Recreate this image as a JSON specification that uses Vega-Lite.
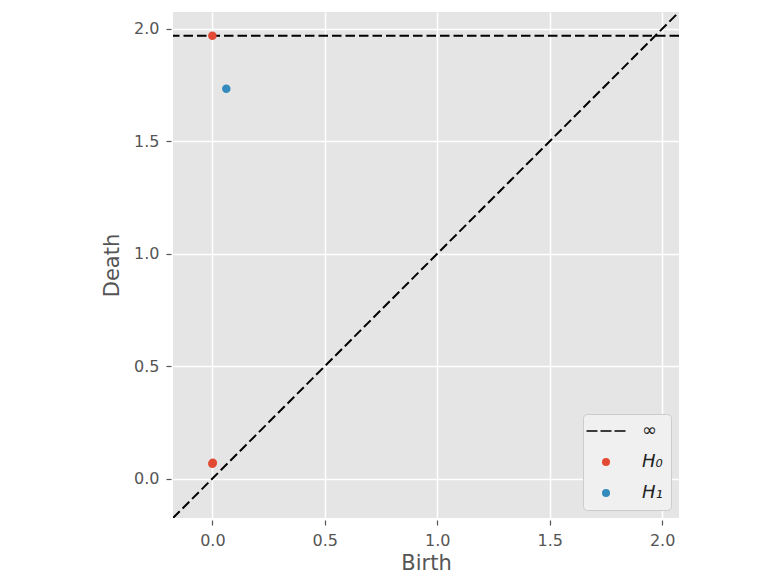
{
  "$schema": "https://vega.github.io/schema/vega-lite/v6.json",
  "width": 506,
  "height": 506,
  "autosize": {"type": "none"},
  "padding": {"left": 173, "top": 12, "right": 92, "bottom": 60},
  "background": "white",
  "config": {
    "view": {"fill": "#E5E5E5", "stroke": null},
    "font": "DejaVu Sans"
  },
  "datasets": {
    "points": [
      {"birth": 0.0, "death": 0.066, "dim": "H₀"},
      {"birth": 0.002, "death": 0.071, "dim": "H₀"},
      {"birth": 0.0, "death": 1.969, "dim": "H₀"},
      {"birth": 0.062, "death": 1.734, "dim": "H₁"}
    ],
    "diag": [{"x": -0.175, "y": -0.175, "x2": 2.075, "y2": 2.075}],
    "inf": [{"y": 1.969}]
  },
  "layer": [
    {
      "data": {"name": "diag"},
      "mark": {"type": "rule", "color": "black", "strokeWidth": 2, "strokeDash": [9.5, 4], "clip": true},
      "encoding": {
        "x": {
          "field": "x", "type": "quantitative",
          "scale": {"domain": [-0.175, 2.075], "nice": false, "zero": false},
          "axis": {
            "title": "Birth", "values": [0, 0.5, 1, 1.5, 2], "format": ".1f",
            "grid": true, "gridColor": "white", "gridWidth": 1.5, "domain": false,
            "tickColor": "#555555", "tickSize": 5, "tickWidth": 1.2, "offset": 2,
            "labelFontSize": 16, "labelColor": "#555555", "labelPadding": 7, "labelFont": "DejaVu Sans",
            "titleFontSize": 21, "titleColor": "#555555", "titleFontWeight": "normal", "titleFont": "DejaVu Sans", "titlePadding": 4
          }
        },
        "y": {
          "field": "y", "type": "quantitative",
          "scale": {"domain": [-0.175, 2.075], "nice": false, "zero": false},
          "axis": {
            "title": "Death", "values": [0, 0.5, 1, 1.5, 2], "format": ".1f",
            "grid": true, "gridColor": "white", "gridWidth": 1.5, "domain": false,
            "tickColor": "#555555", "tickSize": 5, "tickWidth": 1.2, "offset": 2,
            "labelFontSize": 16, "labelColor": "#555555", "labelPadding": 7, "labelFont": "DejaVu Sans",
            "titleFontSize": 21, "titleColor": "#555555", "titleFontWeight": "normal", "titleFont": "DejaVu Sans", "titlePadding": 11
          }
        },
        "x2": {"field": "x2"},
        "y2": {"field": "y2"}
      }
    },
    {
      "data": {"name": "inf"},
      "mark": {"type": "rule", "color": "black", "strokeWidth": 2, "strokeDash": [9.5, 4]},
      "encoding": {
        "y": {"field": "y", "type": "quantitative"}
      }
    },
    {
      "data": {"name": "points"},
      "mark": {"type": "point", "filled": true, "opacity": 1, "size": 72},
      "encoding": {
        "x": {"field": "birth", "type": "quantitative"},
        "y": {"field": "death", "type": "quantitative"},
        "color": {
          "field": "dim",
          "type": "nominal",
          "scale": {"domain": ["∞", "H₀", "H₁"], "range": ["black", "#E24A33", "#348ABD"]},
          "legend": {
            "title": null,
            "orient": "bottom-right",
            "offset": 8,
            "fillColor": "#F0F0F0",
            "strokeColor": "#CCCCCC",
            "cornerRadius": 4,
            "padding": 8,
            "labelFontSize": 18,
            "labelFont": "DejaVu Sans",
            "labelFontStyle": "italic",
            "labelColor": "#222222",
            "symbolSize": 64,
            "symbolStrokeWidth": 0,
            "symbolOpacity": 1,
            "rowPadding": 13,
            "symbolOffset": 6,
            "labelOffset": 27
          }
        },
        "shape": {
          "field": "dim",
          "type": "nominal",
          "scale": {"domain": ["∞", "H₀", "H₁"], "range": ["M-4.875,-0.17H-2.125V0.17H-4.875Z M-1.375,-0.17H1.375V0.17H-1.375Z M2.125,-0.17H4.875V0.17H2.125Z", "circle", "circle"]},
          "legend": {
            "title": null,
            "orient": "bottom-right",
            "offset": 8,
            "fillColor": "#F0F0F0",
            "strokeColor": "#CCCCCC",
            "cornerRadius": 4,
            "padding": 8,
            "labelFontSize": 18,
            "labelFont": "DejaVu Sans",
            "labelFontStyle": "italic",
            "labelColor": "#222222",
            "symbolSize": 64,
            "symbolStrokeWidth": 0,
            "symbolOpacity": 1,
            "rowPadding": 13,
            "symbolOffset": 6,
            "labelOffset": 27
          }
        }
      }
    }
  ]
}
